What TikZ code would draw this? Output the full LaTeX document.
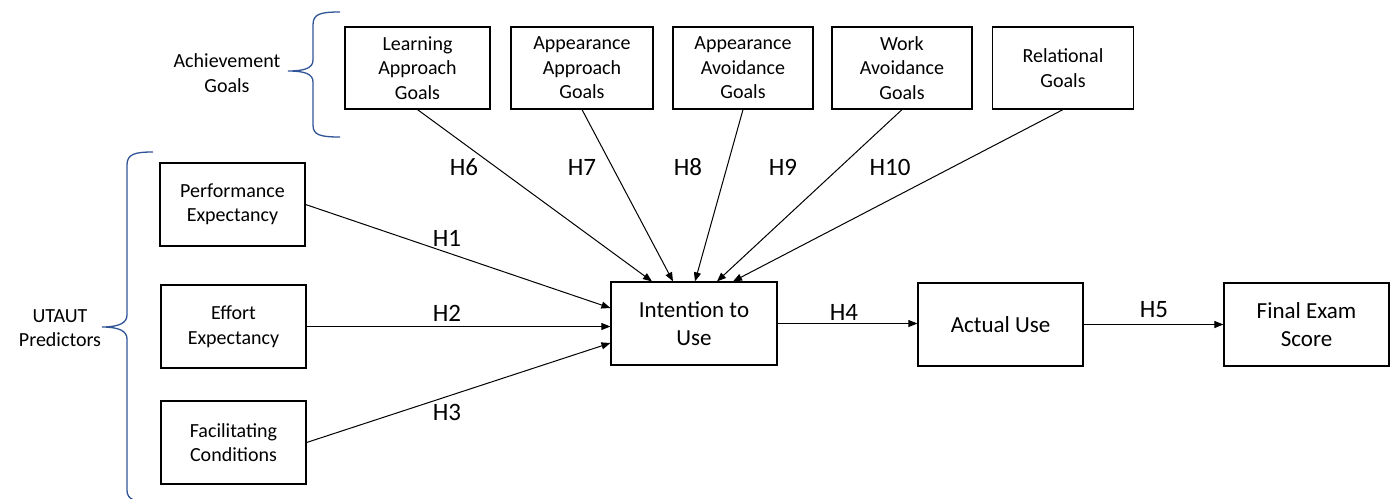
\documentclass[tikz,border=0pt]{standalone}
\usepackage{fontspec}
\setmainfont{Carlito}
\usetikzlibrary{arrows.meta,calc}
\definecolor{braceblue}{RGB}{47,85,151}
\tikzset{
  box/.style={draw=black, line width=1.2pt, align=center, inner sep=0pt,
    font=\fontsize{20}{24.5}\selectfont},
  bigbox/.style={box, font=\fontsize{23}{28}\selectfont},
  hlab/.style={font=\fontsize{25}{28}\selectfont, inner sep=0pt},
  side/.style={font=\fontsize{20}{24.5}\selectfont, align=center, inner sep=0pt},
  arr/.style={-{Triangle[length=9pt,width=7pt]}, line width=1pt},
  brace/.style={draw=braceblue, line width=1.3pt}
}
\begin{document}
\begin{tikzpicture}[x=1pt,y=-1pt]
\useasboundingbox (0,0) rectangle (1394,498);
% top goal boxes
\node[box, minimum width=145pt, minimum height=82pt] (la) at (417.5,68) {Learning\\Approach\\Goals};
\node[box, minimum width=142pt, minimum height=82pt] (aa) at (582,68) {Appearance\\Approach\\Goals};
\node[box, minimum width=140pt, minimum height=82pt] (av) at (743,68) {Appearance\\Avoidance\\Goals};
\node[box, minimum width=140pt, minimum height=82pt] (wa) at (902,68) {Work\\Avoidance\\Goals};
\node[box, minimum width=141pt, minimum height=82pt] (rg) at (1063,68) {Relational\\Goals};
% left predictor boxes
\node[box, minimum width=145pt, minimum height=83pt] (pe) at (232.5,204.5) {Performance\\Expectancy};
\node[box, minimum width=145pt, minimum height=83pt] (ee) at (233.5,326.5) {Effort\\Expectancy};
\node[box, minimum width=145pt, minimum height=83pt] (fc) at (233.5,442.5) {Facilitating\\Conditions};
% main chain
\node[bigbox, minimum width=166pt, minimum height=83pt] (iu) at (694,323.5) {Intention to\\Use};
\node[bigbox, minimum width=165pt, minimum height=83pt] (au) at (1000.5,324.5) {Actual Use};
\node[bigbox, minimum width=165pt, minimum height=83pt] (fe) at (1306.5,324.5) {Final Exam\\Score};
% side labels
\node[side] (ag) at (227,73) {Achievement\\Goals};
\node[side] (up) at (60,328) {UTAUT\\Predictors};
% braces
\draw[brace] (340,12) .. controls (320,12) and (313,14) .. (313,25) -- (313,60)
  .. controls (313,68) and (305,71) .. (288,71)
  .. controls (305,71) and (313,74) .. (313,82) -- (313,125)
  .. controls (313,135) and (320,137) .. (340,137);
\draw[brace] (153,152) .. controls (135,152) and (127,154) .. (127,165) -- (127,315)
  .. controls (127,323) and (119,327) .. (102,327)
  .. controls (119,327) and (127,331) .. (127,339) -- (127,490)
  .. controls (127,500) and (135,502) .. (153,502);
% arrows from goals
\draw[arr] (la.south) -- ($(iu.north)+(-42,0)$);
\draw[arr] (aa.south) -- ($(iu.north)+(-21,0)$);
\draw[arr] (av.south) -- ($(iu.north)+(1,0)$);
\draw[arr] (wa.south) -- ($(iu.north)+(23,0)$);
\draw[arr] (rg.south) -- ($(iu.north)+(39,0)$);
% arrows from predictors
\draw[arr] (pe.east) -- ($(iu.west)+(0,-15.5)$);
\draw[arr] (ee.east) -- (ee.east -| iu.west);
\draw[arr] (fc.east) -- ($(iu.west)+(0,19.5)$);
% chain arrows
\draw[arr] (iu.east) -- (iu.east -| au.west);
\draw[arr] (au.east) -- (au.east -| fe.west);
% hypothesis labels
\node[hlab] (h6) at (464,167) {H6};
\node[hlab] (h7) at (582,167) {H7};
\node[hlab] (h8) at (688,167) {H8};
\node[hlab] (h9) at (783,167) {H9};
\node[hlab] (h10) at (890,167) {H10};
\node[hlab] (h1) at (447,238) {H1};
\node[hlab] (h2) at (447,313) {H2};
\node[hlab] (h3) at (447,412) {H3};
\node[hlab] (h4) at (844,312) {H4};
\node[hlab] (h5) at (1154,310) {H5};
\end{tikzpicture}
\end{document}
